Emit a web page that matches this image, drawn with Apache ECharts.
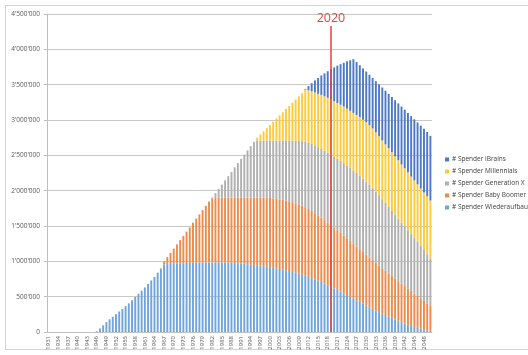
<!DOCTYPE html>
<html>
<head>
<meta charset="utf-8">
<script src="https://cdn.jsdelivr.net/npm/echarts@6/dist/echarts.min.js"></script>
<style>
html,body{margin:0;padding:0;background:#fff;}
#frame{position:absolute;left:5px;top:5px;width:540px;height:345px;border:1px solid #d4d4d4;box-sizing:border-box;}
#chart{position:absolute;left:0;top:0;width:528px;height:355px;}
</style>
</head>
<body>
<div id="frame"></div>
<div id="chart"></div>
<script>
// Values in thousands of donors, one per year 1931..2050
const firstYear = 1931, lastYear = 2050;
const years = [];
for (let y = firstYear; y <= lastYear; y++) years.push(String(y));

const wiederaufbauerK = [
0,0,0,0,0,0,0,0,0,0,
0,0,0,0,0,10,50,95,140,180,
215,250,290,325,365,405,450,495,540,585,
630,680,730,780,840,900,955,960,963,966,
969,972,974,976,978,980,981,982,983,984,
985,985,985,985,984,983,981,979,976,973,
969,965,960,955,950,945,939,932,924,915,
907,899,891,883,875,863,850,837,824,810,
795,779,763,747,730,708,686,663,640,618,
595,572,548,524,500,475,450,425,400,375,
350,327,304,282,260,240,220,200,180,160,
140,120,103,86,70,58,46,35,25,15];

const babyBoomerK = [
0,0,0,0,0,0,0,0,0,0,
0,0,0,0,0,0,0,0,0,0,
0,0,0,0,0,0,0,0,0,0,
0,0,0,0,0,0,45,100,157,214,
271,328,386,444,502,565,624,683,742,801,
860,905,910,915,916,917,919,921,924,927,
931,935,940,945,950,955,961,968,976,980,
983,986,987,987,985,987,988,986,982,980,
970,961,949,935,920,909,897,885,872,858,
845,831,817,803,789,775,761,747,733,719,
705,690,675,659,643,626,609,592,576,560,
545,530,512,494,475,452,429,405,380,355];

const generationXK = [
0,0,0,0,0,0,0,0,0,0,
0,0,0,0,0,0,0,0,0,0,
0,0,0,0,0,0,0,0,0,0,
0,0,0,0,0,0,0,0,0,0,
0,0,0,0,0,0,0,0,0,0,
0,15,70,125,185,245,305,365,430,490,
550,610,670,730,790,810,810,810,810,815,
820,825,832,840,850,860,872,887,899,910,
925,935,948,958,965,973,982,992,998,1004,
1010,1017,1025,1028,1031,1035,1039,1038,1037,1031,
1025,1018,1006,994,977,959,941,923,904,885,
865,845,825,805,785,765,745,720,695,670];

const millennialsK = [
0,0,0,0,0,0,0,0,0,0,
0,0,0,0,0,0,0,0,0,0,
0,0,0,0,0,0,0,0,0,0,
0,0,0,0,0,0,0,0,0,0,
0,0,0,0,0,0,0,0,0,0,
0,0,0,0,0,0,0,0,0,0,
0,0,0,0,0,40,85,130,175,220,
265,310,355,400,445,490,535,580,630,680,
740,745,745,750,755,765,770,775,780,785,
790,795,800,805,810,815,820,830,835,845,
845,845,840,835,830,830,830,830,825,825,
820,820,820,815,815,815,810,815,820,820];

const iBrainsK = [
0,0,0,0,0,0,0,0,0,0,
0,0,0,0,0,0,0,0,0,0,
0,0,0,0,0,0,0,0,0,0,
0,0,0,0,0,0,0,0,0,0,
0,0,0,0,0,0,0,0,0,0,
0,0,0,0,0,0,0,0,0,0,
0,0,0,0,0,0,0,0,0,0,
0,0,0,0,0,0,0,0,0,0,
10,60,115,170,225,275,325,375,430,480,
530,575,620,670,715,760,750,735,725,715,
715,715,725,735,750,760,770,780,795,805,
820,830,840,855,865,875,890,900,910,915];

const seriesNames = ['# Spender Wiederaufbauer','# Spender Baby Boomer','# Spender Generation X','# Spender Millennials','# Spender iBrains'];
const legendOrder = ['# Spender iBrains','# Spender Millennials','# Spender Generation X','# Spender Baby Boomer','# Spender Wiederaufbauer'];
const colors = ['#6FA5DB','#EE8A4A','#B0B0B0','#FFCA3A','#4D79C7'];
const markerYear = '2019';
const markerLabel = '2020';

function fmt(vK){
  const v = Math.round(vK*1000);
  return String(v).replace(/\B(?=(\d{3})+(?!\d))/g, "'");
}

const dataSets = [wiederaufbauerK, babyBoomerK, generationXK, millennialsK, iBrainsK];
const series = dataSets.map((d,i)=>({
  name: seriesNames[i],
  type: 'bar',
  stack: 'total',
  data: d,
  barCategoryGap: '40%',
  itemStyle: {color: colors[i]},
  emphasis: {disabled: true},
  animation: false
}));
series[0].markLine = {
  silent: true,
  symbol: ['none','none'],
  animation: false,
  lineStyle: {color: '#E8423B', width: 1.5, type: 'solid'},
  label: {show: true, position: 'end', formatter: markerLabel, color: '#E8423B', fontSize: 12.5, fontFamily: 'Open Sans', distance: 1},
  data: [[{coord: [markerYear, 0]}, {coord: [markerYear, 4330]}]]
};

const chart = echarts.init(document.getElementById('chart'), null, {renderer:'canvas'});
chart.setOption({
  animation: false,
  backgroundColor: 'transparent',
  textStyle: {fontFamily: 'Open Sans'},
  grid: {left: 47, right: 96, top: 14, bottom: 23, containLabel: false, outerBoundsMode: 'none'},
  legend: {
    data: legendOrder,
    orient: 'vertical',
    left: 440, top: 151,
    itemWidth: 4, itemHeight: 4, itemGap: 5,
    icon: 'rect',
    textStyle: {fontSize: 6.5, color: '#404040', padding: [0,0,0,-2]},
    selectedMode: false
  },
  xAxis: {
    type: 'category',
    data: years,
    axisLine: {lineStyle: {color: '#bfbfbf'}},
    axisTick: {show: false},
    axisLabel: {rotate: 90, interval: 2, fontSize: 6, color: '#595959', margin: 4}
  },
  yAxis: {
    type: 'value',
    min: 0, max: 4500, interval: 500,
    axisLine: {show: true, lineStyle: {color: '#bfbfbf'}},
    axisTick: {show: true, length: 3, lineStyle: {color: '#bfbfbf'}},
    splitLine: {lineStyle: {color: '#c9c9c9', width: 1}},
    axisLabel: {fontSize: 6.5, color: '#595959', margin: 7, formatter: fmt}
  },
  series: series
});
</script>
</body>
</html>
